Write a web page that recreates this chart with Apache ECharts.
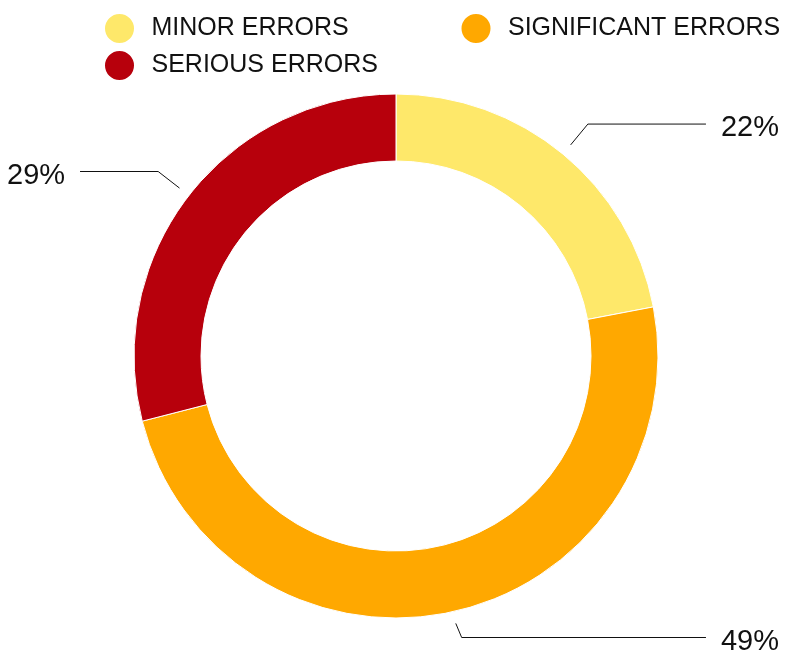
<!DOCTYPE html>
<html>
<head>
<meta charset="utf-8">
<script src="https://cdn.jsdelivr.net/npm/echarts@6/dist/echarts.min.js"></script>
<style>
  html, body { margin: 0; padding: 0; background: #fff; }
  #chart { width: 786px; height: 657px; }
</style>
</head>
<body>
<div id="chart"></div>
<script>
var categories = ['MINOR ERRORS', 'SIGNIFICANT ERRORS', 'SERIOUS ERRORS'];
var shares = [22, 49, 29];
var colors = ['#FEE86A', '#FFA800', '#B7000C'];

var pieData = categories.map(function (name, i) {
    return { name: name, value: shares[i] };
});

var myChart = echarts.init(document.getElementById('chart'));
var option = {
    color: colors,
    legend: {
        left: 98,
        top: 7,
        width: 730,
        icon: 'circle',
        itemWidth: 54,
        itemHeight: 31,
        itemGap: 4,
        textStyle: {
            fontFamily: 'Liberation Sans',
            fontSize: 25,
            color: '#111',
            width: 304,
            lineHeight: 28
        },
        data: categories
    },
    series: [
        {
            // the ring itself
            name: 'errors',
            type: 'pie',
            center: [396, 356],
            radius: [195, 262],
            startAngle: 90,
            silent: true,
            label: { show: false },
            labelLine: { show: false },
            itemStyle: {
                borderColor: '#fff',
                borderWidth: 1
            },
            data: pieData
        },
        {
            // invisible copy, only carries labels a bit off the ring
            name: 'labels',
            type: 'pie',
            center: [396, 356],
            radius: [0, 274],
            startAngle: 90,
            silent: true,
            itemStyle: { color: 'rgba(0,0,0,0)' },
            label: {
                show: true,
                formatter: '{p|{c}%}',
                color: '#111',
                alignTo: 'edge',
                edgeDistance: 7,
                distanceToLabelLine: 15,
                rich: {
                    p: {
                        fontFamily: 'Liberation Sans',
                        fontSize: 29,
                        color: '#111',
                        padding: [8, 0, 0, 0]
                    }
                }
            },
            labelLine: {
                show: true,
                length: 27,
                length2: 30,
                lineStyle: { color: '#111', width: 1 }
            },
            data: pieData
        }
    ]
};
myChart.setOption(option);
</script>
</body>
</html>
